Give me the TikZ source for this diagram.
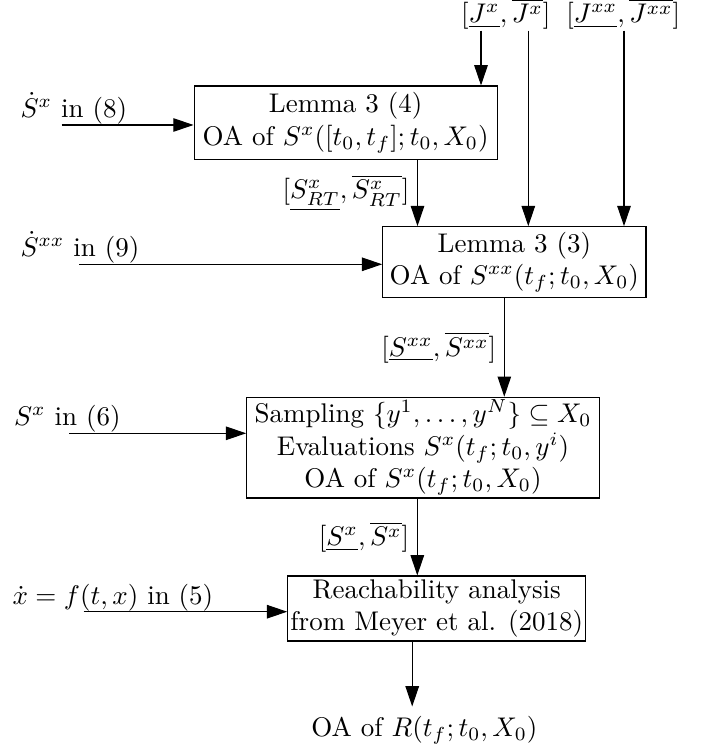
\documentclass[tikz,border=0pt]{standalone}
\usetikzlibrary{arrows.meta,calc}
\begin{document}
\begin{tikzpicture}[x=0.3704pt,y=-0.3704pt,
  box/.style={draw,align=center,inner xsep=1pt,inner ysep=1pt},
  arr/.style={-{Triangle[length=7.5pt,width=5pt]}},
  lab/.style={inner sep=0pt,anchor=base west},
  elab/.style={midway,left,inner sep=2.8pt}]
\useasboundingbox (0,0) rectangle (708,754);
% boxes
\node[box,minimum width=112.3pt,minimum height=27.15pt] (b1) at (345.65,122.65)
  {Lemma 3 (4)\\OA of $S^x([t_0,t_f];t_0,X_0)$};
\node[box,minimum width=97.5pt,minimum height=26.3pt] (b2) at (514.35,262.2)
  {Lemma 3 (3)\\OA of $S^{xx}(t_f;t_0,X_0)$};
\node[box,minimum width=130.6pt,minimum height=37.3pt] (b3) at (423,447.65)
  {Sampling $\{y^1,\dots,y^N\}\subseteq X_0$\\Evaluations $S^x(t_f;t_0,y^i)$\\OA of $S^x(t_f;t_0,X_0)$};
\node[box,minimum width=109.8pt,minimum height=24.1pt] (b4) at (436.75,608.5)
  {Reachability analysis\\from Meyer et al. (2018)};
\node (r) at (424.4,730) {OA of $R(t_f;t_0,X_0)$};
% top labels
\node[anchor=base,inner sep=0pt] (jx) at (505.8,22.6) {$[\underline{J^x},\overline{J^x}]$};
\node[anchor=base,inner sep=0pt] (jxx) at (623.3,22.6) {$[\underline{J^{xx}},\overline{J^{xx}}]$};
\coordinate (j1) at (481,30.7);
\coordinate (j2) at (528.3,30.7);
\coordinate (j3) at (624,30.7);
\draw[arr] (j1) -- (j1 |- b1.north);
\draw[arr] (j2) -- (j2 |- b2.north);
\draw[arr] (j3) -- (j3 |- b2.north);
% left inputs
\coordinate (l1) at (61.7,125);
\coordinate (l2) at (79,264.3);
\coordinate (l3) at (69.1,433.3);
\coordinate (l4) at (83.5,611.7);
\node[lab] (t1) at (20,117.3) {$\dot S^x$ in (8)};
\node[lab] (t2) at (20,256.7) {$\dot S^{xx}$ in (9)};
\node[lab] (t3) at (13.5,425.6) {$S^x$ in (6)};
\node[lab] (t4) at (12,604) {$\dot x = f(t,x)$ in (5)};
\draw[arr] (l1) -- (l1 -| b1.west);
\draw[arr] (l2) -- (l2 -| b2.west);
\draw[arr] (l3) -- (l3 -| b3.west);
\draw[arr] (l4) -- (l4 -| b4.west);
% vertical links
\coordinate (a1) at (417.5,0);
\coordinate (a2) at (504.3,0);
\coordinate (a3) at (417.3,0);
\coordinate (a4) at (412.2,0);
\draw[arr] (a1 |- b1.south) -- node[elab] {$[\underline{S^x_{RT}},\overline{S^x_{RT}}]$} (a1 |- b2.north);
\draw[arr] (a2 |- b2.south) -- node[elab] {$[\underline{S^{xx}},\overline{S^{xx}}]$} (a2 |- b3.north);
\draw[arr] (a3 |- b3.south) -- node[elab] {$[\underline{S^x},\overline{S^x}]$} (a3 |- b4.north);
\draw[arr] (a4 |- b4.south) -- (a4 |- r.north);
\end{tikzpicture}
\end{document}
